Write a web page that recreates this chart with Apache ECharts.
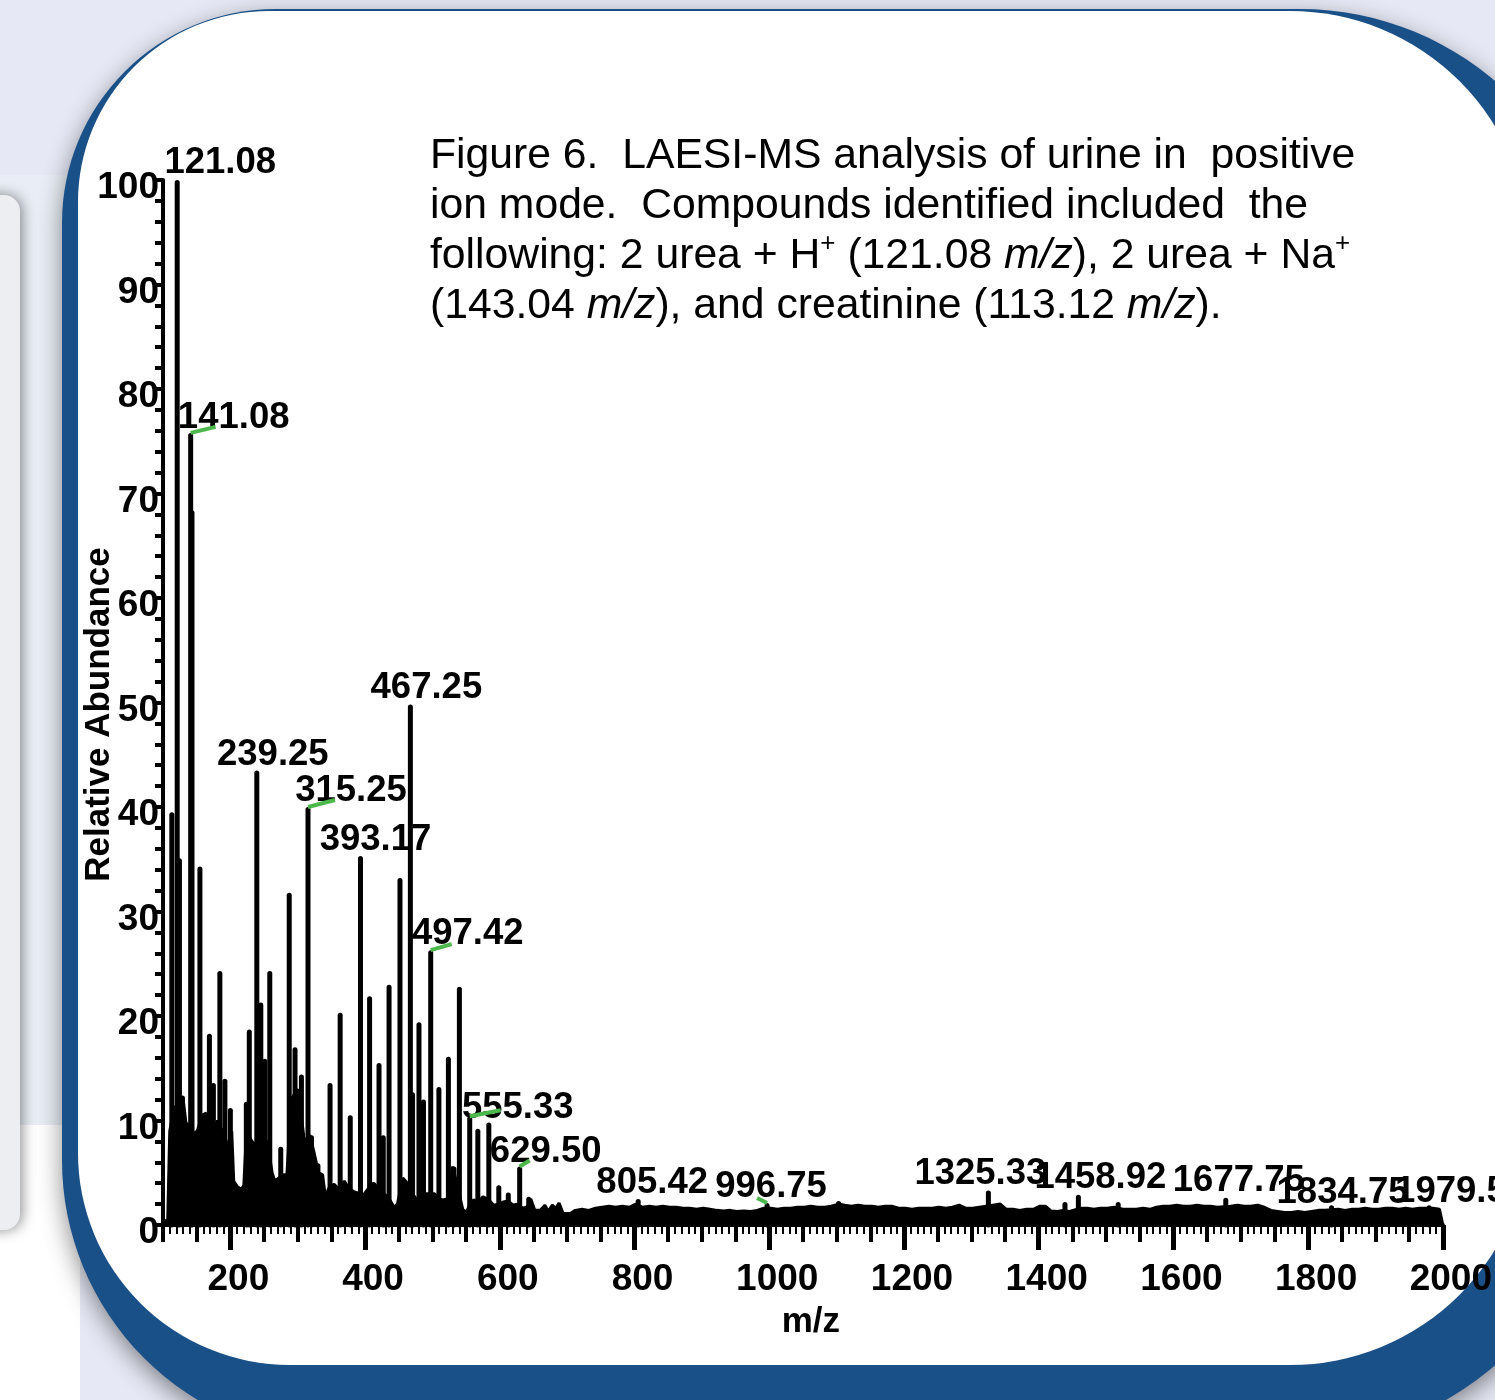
<!DOCTYPE html>
<html><head><meta charset="utf-8">
<script src="https://cdn.jsdelivr.net/npm/echarts@6/dist/echarts.min.js"></script>
<style>html,body{margin:0;padding:0;background:#e6e9f5;}#c{width:1495px;height:1400px;}</style>
</head><body><div id="c"></div>
<script>
// ---- data ----
const peakMz = [113.12,121.08,124.4,128.9,141.08,143.04,149.6,154.8,161.5,168.9,174.8,184.4,191.9,200.0,
  223.7,228.1,239.25,245.2,251.1,258.5,274.8,287.4,296,305.5,315.25,320.5,330,348,363,378,393.17,406.7,420.7,427,
  435.6,451.8,467.25,470.5,480,486.7,497.42,509.6,523.7,532,540,555.33,567.4,583.7,598.5,612.6,629.50,643,
  805.42,996.75,1103,1325.33,1439,1458.92,1518,1677.75,1834.75,1979.58];
const peakInt = [39.5,100,35.1,12.4,75.8,68.4,8.8,34.3,10.7,18.3,13.6,24.3,14.0,11.2,
  11.8,18.7,43.5,21.3,15.9,24.3,7.5,31.8,17.0,14.4,40.0,8.6,5.9,13.6,20.3,10.5,35.3,21.9,15.5,8.6,
  23.0,33.2,49.8,12.7,19.4,12.0,26.3,13.2,16.1,5.6,22.8,10.4,9.2,9.8,3.8,3.1,5.6,2.7,
  2.5,2.1,2.3,3.3,2.2,2.9,2.2,2.6,1.9,1.9];
const labeledPeaks = ['121.08','141.08','239.25','315.25','393.17','467.25','497.42','555.33','629.50',
  '805.42','996.75','1325.33','1458.92','1677.75','1834.75','1979.58'];

const noiseMz = [100,103,107,110,116,124,130,134,138,146,151,158,164,170,176,181,188,194,197,202,205,210,216,220,
  224,232,240,248,255,262,266,272,279,284,290,300,310,318,324,331,337,341,346,354,360,369,376,383,392,398,405,413,
  420,428,436,443,448,456,463,470,476,483,490,503,510,516,522,530,536,545,550,556,561,568,575,584,591,598,605,612,
  620,626,634,640,646,652,660,667,672,678,683,688,694,705,712,722,732,742,752,762,772,782,792,802,812,822,832,842,
  852,862,872,882,892,902,912,922,932,942,952,962,972,982,992,1002,1012,1022,1032,1042,1052,1062,1072,1082,1092,
  1103,1112,1122,1132,1142,1152,1162,1172,1182,1192,1202,1212,1222,1232,1242,1252,1262,1272,1282,1292,1302,1312,
  1322,1332,1343,1352,1362,1372,1382,1392,1402,1410,1418,1428,1436,1446,1462,1472,1482,1492,1502,1512,1525,1535,
  1545,1555,1565,1575,1585,1595,1605,1615,1625,1635,1645,1655,1665,1685,1695,1705,1715,1725,1735,1745,1755,1765,
  1775,1785,1795,1805,1815,1825,1845,1855,1865,1875,1885,1895,1905,1915,1925,1935,1945,1955,1965,1985,1995,2000];
const noiseLevel = [0,0.4,0.5,9,11,12,12,9.8,9.5,8.8,9,10.5,10.7,9.5,9.1,10,9,8,7.2,9,4.2,3.7,3.4,3.8,
  9,8,7.5,8,8,5,4.2,4.5,4.8,4.8,12,13,8,8.6,7,5,4.8,2.7,3.5,3.9,3.5,4.2,3.5,3.2,3,2.9,3.5,4,
  3.5,3,2.5,1.7,2,4.5,4,3,2.5,2.5,3,3,2.5,2.4,2.5,5.6,4,1.5,1.2,2,2.4,2.2,2.7,2.4,1.9,2,2.2,2.3,
  1.9,2,1.6,1.7,2.5,1.4,1.4,1.9,1.3,1.9,1.6,2.1,1.1,1.1,1.4,1.5,1.4,1.6,1.7,1.8,1.7,1.8,1.7,2.0,1.7,1.8,1.7,1.8,
  1.7,1.7,1.6,1.6,1.5,1.6,1.5,1.4,1.35,1.4,1.3,1.35,1.3,1.4,1.6,1.6,1.5,1.6,1.6,1.7,1.7,1.8,1.7,1.7,1.8,
  2.0,1.9,1.8,1.9,1.8,1.8,1.7,1.8,1.8,1.6,1.6,1.5,1.6,1.6,1.6,1.7,1.6,1.7,1.9,1.6,1.6,1.7,
  1.8,1.9,2.0,1.5,1.5,1.4,1.5,1.5,1.8,1.8,1.35,1.3,1.4,1.3,1.6,1.6,1.5,1.6,1.6,1.7,1.5,1.5,
  1.5,1.6,1.5,1.7,1.8,1.8,1.9,1.8,1.8,1.9,1.8,1.8,1.7,1.8,1.9,1.8,1.8,1.9,1.7,1.4,1.3,1.2,
  1.2,1.3,1.2,1.3,1.4,1.4,1.5,1.4,1.5,1.5,1.6,1.5,1.5,1.6,1.6,1.5,1.6,1.5,1.6,1.6,1.5,0];

const xLabelValues = [200,400,600,800,1000,1200,1400,1600,1800,2000];
const xMajorTicks = [200,400,600,800,1000,1200,1400,1600,1800,2000];

// ---- styles ----
const FONT = 'Liberation Sans, Arial, sans-serif';
const labelOffsets = {
  '121.08':[43,-17],'141.08':[43,-15],'239.25':[16,-15],'315.25':[43,-16],'393.17':[15,-16],
  '467.25':[16,-17],'497.42':[37,-16],'555.33':[48,-8],'629.50':[26,-15],'805.42':[14,-16],
  '996.75':[4,-16],'1325.33':[-8,-17],'1458.92':[22,-17],'1677.75':[13,-17],'1834.75':[11,-12],
  '1979.58':[32,-13]
};
const greenLeaders = { // pixel offsets from peak top: [x1,y1,x2,y2]
  '141.08':[0,0,25,-6],'315.25':[0,0,27,-7],'497.42':[0,0,21,-6],'555.33':[0,0,31,-6],
  '629.50':[0,0,10,-6],'996.75':[-10,-5,0,0]
};

const barData = peakMz.map((m,i)=>{
  const key = m.toFixed(2);
  const item = {value:[m, peakInt[i]]};
  if (labeledPeaks.indexOf(key) >= 0) {
    item.label = {show:true, formatter:key, offset:labelOffsets[key]};
  }
  return item;
});
const stickData = peakMz.map((m,i)=>[m, peakInt[i]]);
const noiseData = noiseMz.map((m,i)=>[m, noiseLevel[i]]);

const bgGraphics = [
  {id:'bgL', type:'rect', z:-20, shape:{x:0,y:175,width:80,height:950}, style:{fill:'#e9eef6'}},
  {id:'bgLW', type:'rect', z:-20, shape:{x:0,y:1125,width:80,height:275}, style:{fill:'#ffffff'}},
  {id:'bgLP', type:'rect', z:-19, shape:{x:-200,y:195,width:220,height:1035,r:16},
    style:{fill:'#eceef2', shadowBlur:14, shadowColor:'rgba(0,0,0,0.45)', shadowOffsetX:2}},
  {id:'blue', type:'rect', z:-18, shape:{x:62,y:9,width:1538,height:1431,r:[214,300,305,280]},
    style:{fill:'#1a5088', shadowBlur:25, shadowColor:'rgba(0,0,0,0.45)', shadowOffsetY:8}},
  {id:'white', type:'rect', z:-17, shape:{x:78,y:11,width:1452,height:1354,r:[191,240,240,212]},
    style:{fill:'#ffffff'}}
];

const chart = echarts.init(document.getElementById('c'), null, {renderer:'canvas'});
const option = {
  animation:false,
  backgroundColor:'#e6e9f5',
  title:{
    left:430, top:131, padding:0,
    text:'Figure 6.  LAESI-MS analysis of urine in  positive\nion mode.  Compounds identified included  the\nfollowing: 2 urea + H{sup|+} (121.08 {it|m/z}), 2 urea + Na{sup|+}\n(143.04 {it|m/z}), and creatinine (113.12 {it|m/z}).',
    textStyle:{fontFamily:FONT, fontSize:42.7, fontWeight:'normal', color:'#000', lineHeight:50,
      rich:{
        sup:{fontFamily:FONT, fontSize:26, color:'#000', lineHeight:50, verticalAlign:'top'},
        it:{fontFamily:FONT, fontSize:42.7, fontStyle:'italic', color:'#000', lineHeight:50}
      }}
  },
  grid:{left:163, right:52, top:180, bottom:175},
  xAxis:[
    {type:'value', min:100, max:2000, interval:50, position:'bottom',
     axisLine:{show:true, lineStyle:{color:'#000', width:4}},
     axisTick:{show:true, length:17, lineStyle:{color:'#000', width:4}},
     minorTick:{show:true, splitNumber:5, length:9, lineStyle:{color:'#000', width:2}},
     axisLabel:{show:true, customValues:xLabelValues, margin:36, color:'#000', fontFamily:FONT,
       fontSize:37, fontWeight:'bold', padding:[0,0,0,16], formatter:(v)=>String(v)},
     splitLine:{show:false}, minorSplitLine:{show:false},
     name:'m/z', nameLocation:'middle', nameGap:80, nameMoveOverlap:false,
     nameTextStyle:{color:'#000', fontFamily:FONT, fontSize:35, fontWeight:'bold', padding:[0,0,0,16]}},
    {type:'value', min:100, max:2000, interval:50, position:'bottom',
     axisLine:{show:false},
     axisTick:{show:true, customValues:xMajorTicks, length:25, lineStyle:{color:'#000', width:5}},
     axisLabel:{show:false}, splitLine:{show:false}}
  ],
  yAxis:{type:'value', min:0, max:100, interval:10,
    axisLine:{show:true, onZero:false, lineStyle:{color:'#000', width:4}},
    axisTick:{show:true, length:8, lineStyle:{color:'#000', width:4}},
    minorTick:{show:true, splitNumber:5, length:8, lineStyle:{color:'#000', width:4}},
    axisLabel:{margin:4, color:'#000', fontFamily:FONT, fontSize:37, fontWeight:'bold',
      formatter:(v)=>'{s| }\n{v|'+v+'}',
      rich:{s:{fontSize:10, lineHeight:16}, v:{fontFamily:FONT, fontSize:37, fontWeight:'bold', color:'#000', lineHeight:40}}},
    splitLine:{show:false}, minorSplitLine:{show:false},
    name:'Relative Abundance', nameLocation:'middle', nameGap:46, nameRotate:90, nameMoveOverlap:false,
    nameTextStyle:{color:'#000', fontFamily:FONT, fontSize:35, fontWeight:'bold', padding:[0,24,0,0]}
  },
  series:[
    {type:'line', name:'baseline', xAxisIndex:0, yAxisIndex:0, data:noiseData, symbol:'none',
     lineStyle:{color:'#000', width:3}, areaStyle:{color:'#000', opacity:1}, z:2, silent:true},
    {type:'custom', name:'sticks', xAxisIndex:0, yAxisIndex:0, data:stickData, encode:{x:0, y:1},
     renderItem:(params, api)=>{
       const top = api.coord([api.value(0), api.value(1)]);
       const base = api.coord([api.value(0), 0]);
       return {type:'line', shape:{x1:top[0], y1:top[1]+2.5, x2:base[0], y2:base[1]},
         style:{stroke:'#000', lineWidth:5, lineCap:'round'}};
     }, z:3, silent:true},
    {type:'bar', name:'peaks', xAxisIndex:0, yAxisIndex:0, data:barData, barWidth:2,
     itemStyle:{color:'rgba(0,0,0,0)'},
     label:{show:false, position:'top', distance:0, align:'center', verticalAlign:'middle',
       color:'#000', fontFamily:FONT, fontSize:36.5, fontWeight:'bold'},
     z:4, silent:true}
  ],
  graphic:bgGraphics
};
chart.setOption(option);

// green leader lines placed via the chart's own scales
const leaderGraphics = [];
Object.keys(greenLeaders).forEach((key,i)=>{
  const idx = peakMz.findIndex(m=>m.toFixed(2)===key);
  const p = chart.convertToPixel({xAxisIndex:0, yAxisIndex:0}, [peakMz[idx], peakInt[idx]]);
  const o = greenLeaders[key];
  leaderGraphics.push({id:'g'+i, type:'line', z:10,
    shape:{x1:p[0]+o[0], y1:p[1]+o[1], x2:p[0]+o[2], y2:p[1]+o[3]},
    style:{stroke:'#4cb84c', lineWidth:4}});
});
chart.setOption({graphic:bgGraphics.concat(leaderGraphics)});
</script></body></html>
